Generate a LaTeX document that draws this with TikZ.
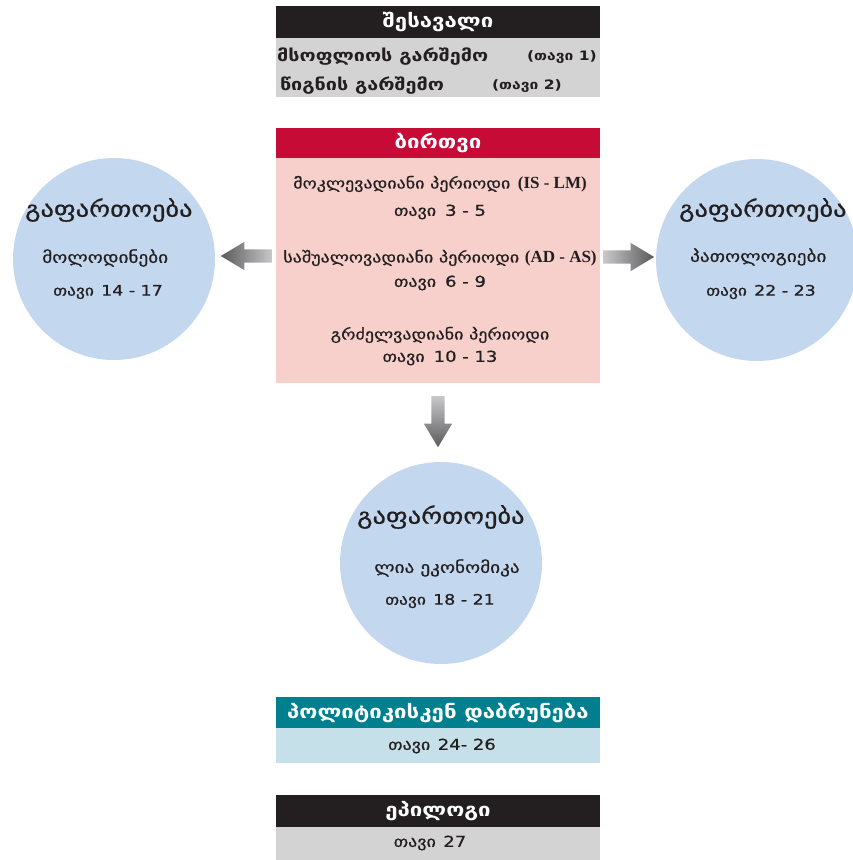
\documentclass[tikz,border=0pt]{standalone}
\usepackage{fontspec}
\setmainfont{DejaVu Sans}[FakeStretch=1.2]
\newfontfamily\mediumfam{DejaVu Sans}[FakeStretch=1.2, FakeBold=0.7]
\newfontfamily\latinserif{Liberation Serif}
\usetikzlibrary{shapes.arrows}
\definecolor{headdark}{HTML}{231F20}
\definecolor{greybody}{HTML}{D3D3D3}
\definecolor{corered}{HTML}{C60B37}
\definecolor{corepink}{HTML}{F7D0CB}
\definecolor{bubble}{HTML}{C3D7EE}
\definecolor{tealhead}{HTML}{00808E}
\definecolor{tealbody}{HTML}{C6E0E9}
\definecolor{arrowdark}{HTML}{5A5A5C}
\definecolor{arrowlight}{HTML}{C8C8CA}
\tikzset{
  bar/.style={minimum width=324pt, inner sep=0pt, text=white,
    font=\bfseries\fontsize{18.5}{20}\selectfont},
  panel/.style={minimum width=324pt, inner sep=0pt},
  bubblenode/.style={circle, fill=bubble, minimum size=202pt, inner sep=0pt},
  line/.style={inner sep=0pt, text=headdark, font=\mediumfam\fontsize{15}{17}\selectfont},
  introline/.style={inner sep=0pt, text=headdark, font=\bfseries\fontsize{16.5}{18}\selectfont},
  title/.style={inner sep=0pt, anchor=west, text=headdark, font=\mediumfam\fontsize{22}{24}\selectfont},
  blockarrow/.style={single arrow, minimum height=51pt, inner sep=6.5pt,
    single arrow head extend=7.5pt, single arrow tip angle=62, anchor=tail},
}
\begin{document}
\begin{tikzpicture}[x=1pt, y=-1pt]
  \useasboundingbox (0,0) rectangle (853,860);
  % boxes
  \node[panel, fill=greybody, minimum height=59pt] (introbody) at (438,67.5) {};
  \node[bar, fill=headdark, minimum height=32pt] (intro) at (438,22) {შესავალი};
  \node[panel, fill=corepink, minimum height=225pt] (corebody) at (438,270.5) {};
  \node[bar, fill=corered, minimum height=30pt] (core) at (438,143) {ბირთვი};
  \node[panel, fill=tealbody, minimum height=35pt] (politicsbody) at (438,745.5) {};
  \node[bar, fill=tealhead, minimum height=31pt] (politics) at (438,712.5) {პოლიტიკისკენ დაბრუნება};
  \node[panel, fill=greybody, minimum height=33pt] (epiloguebody) at (438,843.5) {};
  \node[bar, fill=headdark, minimum height=32pt] (epilogue) at (438,811) {ეპილოგი};
  % circles
  \node[bubblenode] (expleft) at (114,259) {};
  \node[bubblenode] (expright) at (757,260) {};
  \node[bubblenode] (expdown) at (441,563) {};
  % texts of the intro
  \node[introline, anchor=west] (world) at (277,57) {მსოფლიოს გარშემო};
  \node[introline, anchor=east, font=\bfseries\fontsize{13}{15}\selectfont] (worldch) at (597,57) {(თავი 1)};
  \node[introline, anchor=west] (book) at (280,86) {წიგნის გარშემო};
  \node[introline, anchor=east, font=\bfseries\fontsize{13}{15}\selectfont] (bookch) at (562,86) {(თავი 2)};
  % texts of the core
  \node[line] (short) at (440,184) {მოკლევადიანი პერიოდი\hspace{0.5em}{\latinserif\bfseries\fontsize{17}{18}\selectfont(IS - LM)}};
  \node[line] (shortch) at (440,212) {თავი\hspace{0.6em}3 - 5};
  \node[line] (medium) at (440,258) {საშუალოვადიანი პერიოდი {\latinserif\bfseries\fontsize{17}{18}\selectfont(AD - AS)}};
  \node[line] (mediumch) at (440,283) {თავი\hspace{0.6em}6 - 9};
  \node[line] (long) at (440,335) {გრძელვადიანი პერიოდი};
  \node[line] (longch) at (440,358) {თავი\hspace{0.6em}10 - 13};
  % texts of the circles
  \node[title] (lefttitle) at (25,210) {გაფართოება};
  \node[title, font=\mediumfam\fontsize{16}{18}\selectfont] (leftname) at (42,258) {მოლოდინები};
  \node[title, font=\mediumfam\fontsize{14.5}{16}\selectfont] (leftch) at (53,292) {თავი\hspace{0.5em}14 - 17};
  \node[title] (righttitle) at (679,210) {გაფართოება};
  \node[title, font=\mediumfam\fontsize{16}{18}\selectfont] (rightname) at (690,257) {პათოლოგიები};
  \node[title, font=\mediumfam\fontsize{14.5}{16}\selectfont] (rightch) at (706,292) {თავი\hspace{0.5em}22 - 23};
  \node[title] (downtitle) at (357,517) {გაფართოება};
  \node[title, font=\mediumfam\fontsize{16}{18}\selectfont] (downname) at (374,568) {ლია ეკონომიკა};
  \node[title, font=\mediumfam\fontsize{14.5}{16}\selectfont] (downch) at (385,601) {თავი\hspace{0.5em}18 - 21};
  % texts of the lower panels
  \node[line] (politicsch) at (442,746) {თავი\hspace{0.5em}24- 26};
  \node[line] (epiloguech) at (430,843) {თავი\hspace{0.5em}27};
  % arrows
  \node[blockarrow, shape border rotate=180, left color=arrowdark, right color=arrowlight]
    (toleft) at (272,256) {};
  \node[blockarrow, left color=arrowlight, right color=arrowdark]
    (toright) at (603,257) {};
  \node[blockarrow, shape border rotate=270, top color=arrowlight, bottom color=arrowdark]
    (todown) at (438,396) {};
\end{tikzpicture}
\end{document}
